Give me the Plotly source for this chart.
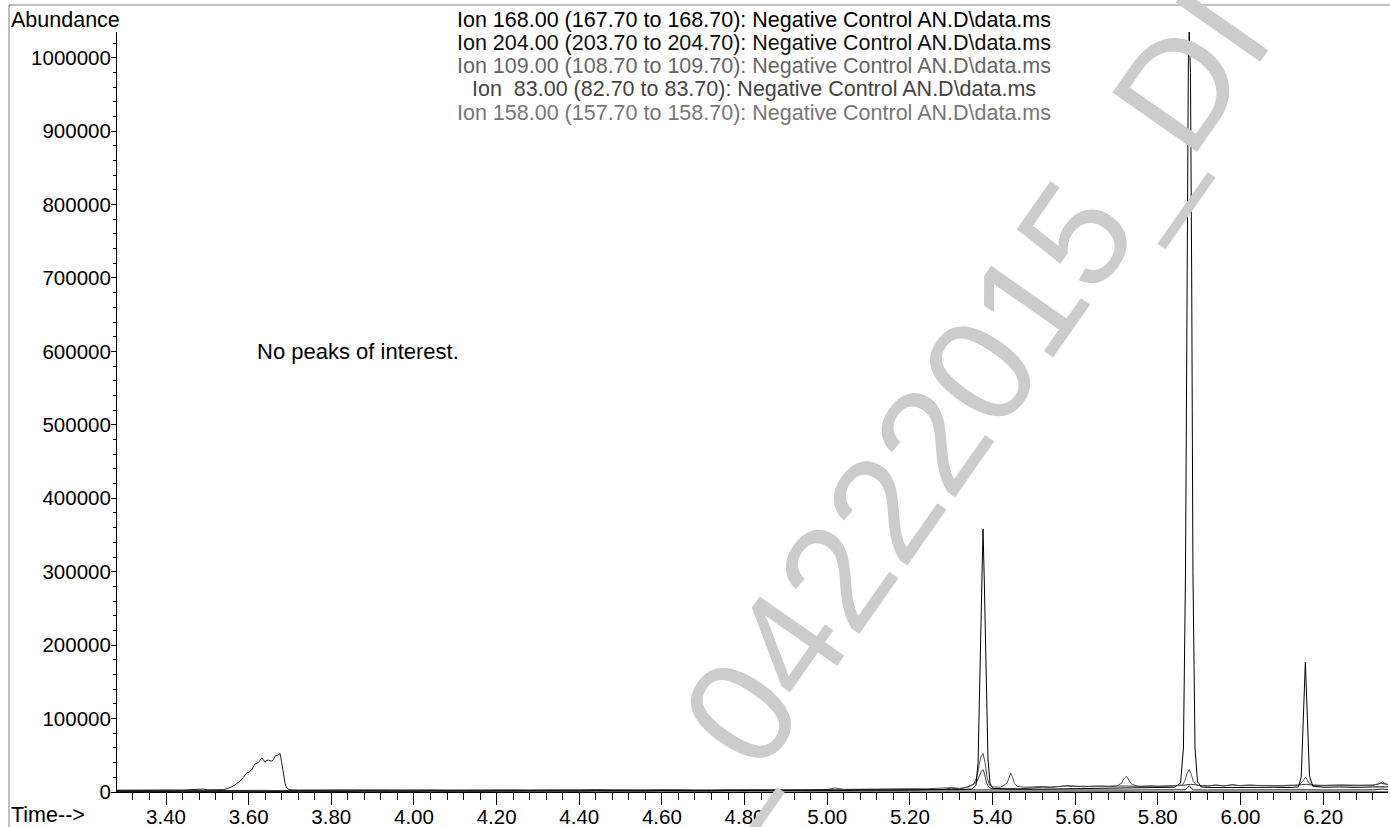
import plotly.graph_objects as go

# ---------------- data ----------------
ion_labels = [
    "Ion 168.00 (167.70 to 168.70): Negative Control AN.D\\data.ms",
    "Ion 204.00 (203.70 to 204.70): Negative Control AN.D\\data.ms",
    "Ion 109.00 (108.70 to 109.70): Negative Control AN.D\\data.ms",
    "Ion \u00a083.00 (82.70 to 83.70): Negative Control AN.D\\data.ms",
    "Ion 158.00 (157.70 to 158.70): Negative Control AN.D\\data.ms",
]

t_168 = [3.28, 3.32, 3.36, 3.40, 3.44, 3.48, 3.52, 3.56, 3.60, 3.64, 3.68, 3.72, 3.76, 3.80, 3.84, 3.88,
         3.92, 3.96, 4.00, 4.04, 4.08, 4.12, 4.16, 4.20, 4.24, 4.28, 4.32, 4.36, 4.40, 4.44, 4.48, 4.52,
         4.56, 4.60, 4.64, 4.68, 4.72, 4.76, 4.80, 4.84, 4.88, 4.92, 4.96, 5.00, 5.04, 5.08, 5.12, 5.16,
         5.20, 5.24, 5.28, 5.32, 5.350, 5.360, 5.365, 5.369, 5.374, 5.377, 5.380, 5.385, 5.389, 5.394,
         5.40, 5.44, 5.48, 5.52, 5.56, 5.60, 5.64, 5.68, 5.72, 5.76, 5.80, 5.84, 5.855, 5.862, 5.867,
         5.871, 5.874, 5.876, 5.879, 5.882, 5.885, 5.890, 5.896, 5.905, 5.92, 5.96, 6.00, 6.04, 6.08,
         6.12, 6.14, 6.147, 6.152, 6.157, 6.162, 6.167, 6.175, 6.20, 6.24, 6.28, 6.32, 6.36]
v_168 = [1200, 900, 1400, 1000, 1300, 900, 1200, 1500, 1100, 1300, 1000, 1400, 1100, 1300, 1000, 1500,
         1200, 1400, 1100, 1600, 1300, 1500, 1200, 1600, 1400, 1700, 1300, 1600, 1500, 1800, 1400, 1700,
         1600, 1900, 1500, 1800, 1700, 2000, 1800, 2100, 1900, 2300, 2000, 2400, 2200, 2600, 2400, 2800,
         2600, 3000, 2900, 3200, 4000, 9000, 40000, 150000, 300000, 358000, 290000, 150000, 45000, 12000,
         5000, 4000, 3600, 3800, 4200, 4500, 4300, 4800, 5000, 5200, 5600, 6500, 12000, 60000, 300000,
         750000, 1000000, 1035000, 980000, 700000, 300000, 60000, 14000, 7000, 6200, 6000, 6300, 5900, 6400,
         6000, 7000, 20000, 100000, 177000, 100000, 22000, 8000, 6500, 6800, 6300, 6900, 7000]

t_204 = [3.28, 3.32, 3.36, 3.40, 3.44, 3.48, 3.49, 3.50, 3.52, 3.54, 3.555, 3.567, 3.579, 3.587, 3.595,
         3.601, 3.607, 3.615, 3.623, 3.628, 3.632, 3.636, 3.640, 3.644, 3.648, 3.652, 3.656, 3.660, 3.664,
         3.670, 3.676, 3.680, 3.684, 3.688, 3.692, 3.70, 3.72, 3.76, 3.80, 3.84, 3.88, 3.92, 3.96, 4.00,
         4.04, 4.08, 4.12, 4.16, 4.20, 4.24, 4.28, 4.32, 4.36, 4.40, 4.44, 4.48, 4.52, 4.56, 4.60, 4.64,
         4.68, 4.72, 4.76, 4.80, 4.84, 4.88, 4.92, 4.96, 5.00, 5.04, 5.08, 5.12, 5.16, 5.20, 5.24, 5.28,
         5.32, 5.36, 5.40, 5.44, 5.48, 5.52, 5.56, 5.60, 5.64, 5.68, 5.72, 5.76, 5.80, 5.84, 5.866, 5.871,
         5.876, 5.881, 5.886, 5.92, 5.96, 6.00, 6.04, 6.08, 6.12, 6.16, 6.20, 6.24, 6.28, 6.32, 6.344, 6.36]
v_204 = [2500, 2800, 2400, 2700, 2500, 2900, 4000, 3000, 2800, 3200, 6000, 9500, 15000, 19500, 26000,
         27000, 30000, 38000, 40000, 43000, 46500, 43000, 41000, 43000, 43500, 42500, 42000, 44000, 49000,
         50000, 52500, 40000, 25000, 12000, 5000, 3000, 2600, 2800, 2500, 2700, 2400, 2800, 2600, 2500,
         2900, 2600, 2800, 2500, 2700, 2900, 2600, 2800, 2500, 2700, 3000, 2600, 2800, 2700, 2900, 2600,
         2800, 2500, 2900, 2700, 2600, 2800, 3000, 2700, 2900, 2600, 2800, 3000, 2700, 2900, 2800, 3100,
         2900, 2600, 2400, 2600, 2500, 2700, 2600, 2800, 2500, 2700, 2600, 2800, 2700, 2900, 3000, 5500,
         8500, 5000, 2900, 2700, 2900, 2600, 2800, 2700, 2900, 3000, 2700, 2800, 2600, 2900, 4000, 3000]

t_109 = [3.28, 3.32, 3.36, 3.40, 3.44, 3.48, 3.52, 3.56, 3.60, 3.64, 3.68, 3.72, 3.76, 3.80, 3.84, 3.88,
         3.92, 3.96, 4.00, 4.04, 4.08, 4.12, 4.16, 4.20, 4.24, 4.28, 4.32, 4.36, 4.40, 4.44, 4.48, 4.52,
         4.56, 4.60, 4.64, 4.68, 4.72, 4.76, 4.80, 4.84, 4.88, 4.92, 4.96, 5.00, 5.02, 5.04, 5.08, 5.12,
         5.16, 5.20, 5.24, 5.28, 5.30, 5.32, 5.34, 5.355, 5.362, 5.368, 5.372, 5.377, 5.382, 5.387, 5.393,
         5.40, 5.42, 5.435, 5.440, 5.444, 5.448, 5.453, 5.46, 5.48, 5.50, 5.52, 5.54, 5.56, 5.58, 5.60,
         5.62, 5.64, 5.66, 5.68, 5.70, 5.712, 5.718, 5.724, 5.730, 5.736, 5.75, 5.78, 5.80, 5.82, 5.84,
         5.86, 5.866, 5.871, 5.876, 5.881, 5.886, 5.895, 5.92, 5.94, 5.96, 5.98, 6.00, 6.02, 6.04, 6.06,
         6.08, 6.10, 6.12, 6.14, 6.150, 6.154, 6.157, 6.161, 6.166, 6.175, 6.20, 6.22, 6.24, 6.26, 6.28,
         6.30, 6.32, 6.335, 6.344, 6.352, 6.36]
v_109 = [1800, 2100, 1700, 2000, 2300, 1900, 2200, 2600, 2000, 2300, 1900, 2200, 2500, 2100, 2400, 2000,
         2300, 2700, 2200, 2500, 2100, 2400, 2800, 2300, 2600, 2200, 2500, 2900, 2400, 2700, 2300, 2600,
         3000, 2500, 2800, 2400, 2700, 3100, 2600, 2900, 2500, 2800, 3200, 3400, 5500, 3600, 3800, 4200,
         4000, 4500, 4300, 4800, 6000, 5000, 6500, 11000, 20000, 38000, 48000, 52500, 40000, 20000, 9000,
         7000, 6500, 12000, 21000, 25500, 21000, 12000, 7500, 6500, 7000, 7500, 6800, 7600, 8200, 7400,
         8000, 7300, 8100, 7600, 8000, 12000, 18000, 21500, 17000, 11000, 8000, 7600, 8200, 7800, 8400,
         9500, 16000, 26000, 30500, 24000, 14000, 9000, 8500, 9200, 8600, 9400, 8800, 9600, 9000, 8600,
         9200, 8800, 9300, 9000, 14000, 18500, 20000, 17000, 12000, 9500, 9200, 8800, 9600, 9000, 9400,
         8900, 9500, 11000, 13500, 11000, 9800]

t_83 = [3.28, 3.32, 3.36, 3.40, 3.44, 3.48, 3.52, 3.56, 3.60, 3.64, 3.68, 3.72, 3.76, 3.80, 3.84, 3.88,
        3.92, 3.96, 4.00, 4.04, 4.08, 4.12, 4.16, 4.20, 4.24, 4.28, 4.32, 4.36, 4.40, 4.44, 4.48, 4.52,
        4.56, 4.60, 4.64, 4.68, 4.72, 4.76, 4.80, 4.84, 4.88, 4.92, 4.96, 5.00, 5.04, 5.08, 5.12, 5.16,
        5.20, 5.24, 5.28, 5.30, 5.32, 5.34, 5.350, 5.356, 5.362, 5.368, 5.373, 5.377, 5.381, 5.386, 5.392,
        5.40, 5.42, 5.44, 5.46, 5.48, 5.50, 5.52, 5.54, 5.56, 5.58, 5.60, 5.62, 5.64, 5.66, 5.68, 5.70,
        5.72, 5.74, 5.76, 5.78, 5.80, 5.82, 5.84, 5.86, 5.88, 5.90, 5.92, 5.94, 5.96, 5.98, 6.00, 6.02,
        6.04, 6.06, 6.08, 6.10, 6.12, 6.14, 6.16, 6.18, 6.20, 6.22, 6.24, 6.26, 6.28, 6.30, 6.32, 6.34, 6.36]
v_83 = [800, 1100, 700, 1000, 1200, 900, 1100, 800, 1000, 1200, 900, 1100, 1300, 1000, 1200, 900,
        1100, 1400, 1000, 1300, 1100, 1500, 1200, 1400, 1100, 1600, 1300, 1500, 1200, 1700, 1400, 1600,
        1300, 1800, 1500, 1700, 1400, 1900, 1600, 2400, 1800, 2000, 1700, 2600, 2200, 2500, 2300, 2800,
        2600, 3000, 3400, 5200, 4200, 7000, 10000, 11000, 14000, 22000, 28000, 30500, 24000, 12000, 6000,
        4500, 4000, 4500, 4200, 5000, 5600, 6500, 6200, 7000, 8600, 8000, 7200, 8000, 7400, 7800, 8200,
        7600, 8000, 7500, 8400, 7800, 8200, 8000, 9000, 10500, 9000, 8000, 9600, 8200, 10000, 8400, 9000,
        8600, 8400, 8800, 8200, 8600, 9800, 10500, 9000, 8600, 9400, 8800, 9200, 8600, 9400, 9000, 12000, 9600]

t_158 = [3.28, 3.36, 3.44, 3.52, 3.60, 3.68, 3.76, 3.84, 3.92, 4.00, 4.08, 4.16, 4.24, 4.32, 4.40, 4.48,
         4.56, 4.64, 4.72, 4.80, 4.88, 4.96, 5.04, 5.12, 5.20, 5.28, 5.36, 5.44, 5.52, 5.60, 5.68, 5.76,
         5.84, 5.92, 6.00, 6.08, 6.16, 6.24, 6.32, 6.36]
v_158 = [400, 600, 300, 500, 700, 400, 600, 300, 500, 700, 400, 600, 500, 300, 600, 400,
         700, 500, 400, 600, 500, 700, 400, 600, 500, 700, 600, 800, 500, 700, 600, 800,
         700, 600, 800, 700, 900, 700, 800, 600]

x_tick_values = [3.40, 3.60, 3.80, 4.00, 4.20, 4.40, 4.60, 4.80, 5.00, 5.20, 5.40, 5.60, 5.80, 6.00, 6.20]
y_tick_values = [0, 100000, 200000, 300000, 400000, 500000, 600000, 700000, 800000, 900000, 1000000]

note_text = "No peaks of interest."
note_pos = (3.615, 600000)
watermark_text = "_04222015_DI"

series = [
    (t_168, v_168, "#000000"),
    (t_204, v_204, "#1e1e1e"),
    (t_109, v_109, "#505050"),
    (t_83, v_83, "#3c3c3c"),
    (t_158, v_158, "#707070"),
]
label_colors = ["#000000", "#111111", "#666666", "#444444", "#777777"]

for t, v, _ in series:
    assert len(t) == len(v), (len(t), len(v))

# ---------------- figure ----------------
FONT = "Liberation Sans, Arial, Helvetica, sans-serif"
W, H = 1390, 827
L, R, T, B = 117, 2, 32, 35
PW, PH = W - L - R, H - T - B


def px2paper(x, y):
    return (x - L) / PW, (H - B - y) / PH


fig = go.Figure()
for i in reversed(range(len(series))):
    t, v, c = series[i]
    fig.add_trace(go.Scatter(x=t, y=v, mode="lines", name=ion_labels[i],
                             line=dict(color=c, width=1), showlegend=False,
                             hoverinfo="skip"))

annotations = []
line_y = [20, 43, 66, 89, 113]
for lbl, col, yy in zip(ion_labels, label_colors, line_y):
    px_, py_ = px2paper(754, yy)
    annotations.append(dict(text=lbl, x=px_, y=py_, xref="paper", yref="paper",
                            xanchor="center", yanchor="middle", showarrow=False,
                            font=dict(family=FONT, size=21.5, color=col)))
ax_, ay_ = px2paper(9, 20)
annotations.append(dict(text="Abundance", x=ax_, y=ay_, xref="paper", yref="paper",
                        xanchor="left", yanchor="middle", showarrow=False,
                        font=dict(family=FONT, size=21.5, color="#000")))
tx_, ty_ = px2paper(9, 815)
annotations.append(dict(text="Time-->", x=tx_, y=ty_, xref="paper", yref="paper",
                        xanchor="left", yanchor="middle", showarrow=False,
                        font=dict(family=FONT, size=21.5, color="#000")))
annotations.append(dict(text=note_text, x=note_pos[0], y=note_pos[1], xref="x", yref="y",
                        xanchor="left", yanchor="middle", showarrow=False,
                        font=dict(family=FONT, size=22, color="#000")))
wx_, wy_ = px2paper(950, 414)
annotations.append(dict(text=watermark_text, x=wx_, y=wy_, xref="paper", yref="paper",
                        xanchor="center", yanchor="middle", showarrow=False, textangle=-55,
                        font=dict(family=FONT, size=150, color="#cccccc")))

fx0, fy0 = px2paper(9, 5)
fx1, _ = px2paper(1395, 5)
_, fy1 = px2paper(9, 835)
shapes = [
    dict(type="line", xref="paper", yref="paper", x0=fx0, y0=fy0, x1=fx1, y1=fy0,
         line=dict(color="#808080", width=1)),
    dict(type="line", xref="paper", yref="paper", x0=fx0, y0=fy0, x1=fx0, y1=fy1,
         line=dict(color="#808080", width=1)),
]

fig.update_layout(
    width=W, height=H, autosize=False,
    margin=dict(l=L, r=R, t=T, b=B, pad=0, autoexpand=False),
    paper_bgcolor="white", plot_bgcolor="white",
    font=dict(family=FONT, size=20.5, color="#000"),
    annotations=annotations, shapes=shapes,
    xaxis=dict(range=[3.2814, 6.357], tickmode="array", tickvals=x_tick_values,
               tickformat=".2f", ticks="outside", ticklen=12, tickwidth=1, tickcolor="#000",
               showline=True, linecolor="#000", linewidth=1, showgrid=False, zeroline=False,
               automargin=False, ticklabelstandoff=-6,
               tickfont=dict(family=FONT, size=20.5, color="#000"),
               minor=dict(tick0=3.40, dtick=0.04, ticks="outside", ticklen=7, tickcolor="#000",
                          showgrid=False)),
    yaxis=dict(range=[0, 1035000], tickmode="array", tickvals=y_tick_values,
               tickformat="d", ticks="outside", ticklen=5, tickwidth=1, tickcolor="#000",
               showline=True, linecolor="#000", linewidth=1, showgrid=False, zeroline=False,
               automargin=False, ticklabelstandoff=-4,
               tickfont=dict(family=FONT, size=20.5, color="#000"),
               minor=dict(tick0=0, dtick=20000, ticks="outside", ticklen=3, tickcolor="#000",
                          showgrid=False)),
)

fig.write_html("out.html", config={"displayModeBar": False},
               post_script="document.body.style.margin='0';document.body.style.overflow='hidden';")
